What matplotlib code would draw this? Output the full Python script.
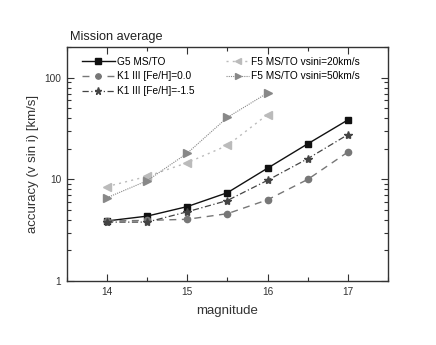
import matplotlib
matplotlib.use("Agg")
import matplotlib.pyplot as plt
from matplotlib import font_manager as fm
from matplotlib.ticker import LogLocator, NullFormatter, FixedLocator

path = None
for f in fm.findSystemFonts():
    base = f.replace('\\', '/').split('/')[-1]
    if base.lower() == 'liberationsans-regular.ttf':
        path = f
        break
if path is not None:
    fm.fontManager.addfont(path)
    fam = fm.FontProperties(fname=path).get_name()
    plt.rcParams['font.family'] = [fam, 'DejaVu Sans']
else:
    plt.rcParams['font.family'] = ['Liberation Sans', 'DejaVu Sans']

def fp(size):
    if path is not None:
        return fm.FontProperties(fname=path, size=size)
    return fm.FontProperties(family='Liberation Sans', size=size)

mag_full = [14, 14.5, 15, 15.5, 16, 16.5, 17]
mag_f5 = [14, 14.5, 15, 15.5, 16]
g5 = [3.9, 4.35, 5.4, 7.4, 12.9, 22.4, 38.5]
k1_00 = [3.9, 3.95, 4.05, 4.6, 6.3, 10.0, 18.6]
k1_15 = [3.8, 3.8, 4.8, 6.2, 9.8, 16.0, 27.6]
f5_20 = [8.5, 10.7, 14.6, 21.6, 43.5]
f5_50 = [6.6, 9.7, 18.1, 40.8, 71.0]

xticks = [14, 15, 16, 17]
yticks = [1, 10, 100]
yticklabels = ['1', '10', '100']

fig = plt.figure(figsize=(4.36, 3.45), dpi=100)
ax = fig.add_axes([0.153, 0.1855, 0.737, 0.6775])

h1, = ax.plot(mag_full, g5, color='#111111', ls='-', lw=1.0, marker='s', ms=4.5,
              label='G5 MS/TO')
h2, = ax.plot(mag_full, k1_00, color='#777777', ls=(0, (5, 4)), lw=1.0, marker='o', ms=4.5,
              label='K1 III [Fe/H]=0.0')
h3, = ax.plot(mag_full, k1_15, color='#444444', ls=(0, (5, 2, 1, 2)), lw=0.9, marker='*', ms=6,
              label='K1 III [Fe/H]=-1.5')
h4, = ax.plot(mag_f5, f5_20, color='#bbbbbb', ls=(0, (1.5, 3)), lw=1.0, marker='<', ms=5.5,
              label='F5 MS/TO vsini=20km/s')
h5, = ax.plot(mag_f5, f5_50, color='#888888', ls=(0, (1, 1)), lw=0.8, marker='>', ms=5.5,
              label='F5 MS/TO vsini=50km/s')

ax.set_yscale('log')
ax.set_xlim(13.5, 17.5)
ax.set_ylim(1, 200)
ax.xaxis.set_major_locator(FixedLocator(xticks))
ax.xaxis.set_minor_locator(FixedLocator([13.5 + 0.5 * i for i in range(9)]))
ax.yaxis.set_minor_locator(LogLocator(base=10, subs=range(2, 10), numticks=20))
ax.yaxis.set_minor_formatter(NullFormatter())
ax.set_yticks(yticks)
ax.set_yticklabels(yticklabels)

ax.tick_params(which='both', direction='in', top=True, right=True, colors='#333333')
ax.tick_params(which='major', length=5, width=0.8)
ax.tick_params(which='minor', length=3, width=0.8)
ax.tick_params(axis='x', pad=4)
ax.tick_params(axis='y', pad=4)
for lab in ax.get_xticklabels() + ax.get_yticklabels():
    lab.set_fontproperties(fp(7.3))
for s in ax.spines.values():
    s.set_linewidth(1.0)
    s.set_color('#333333')

ax.set_xlabel('magnitude', fontproperties=fp(9.5), color='#333333', labelpad=6)
ax.set_ylabel('accuracy (v sin i) [km/s]', fontproperties=fp(9.5), color='#333333', labelpad=4)
tt = ax.set_title('Mission average', fontproperties=fp(9.2), loc='left', color='#222222', pad=5.5)
tt.set_x(0.009)

leg1 = ax.legend(handles=[h1, h2, h3], loc='upper left', frameon=False, prop=fp(7.3),
                 handlelength=3.3, handletextpad=0.2, labelspacing=0.45, markerscale=0.85,
                 bbox_to_anchor=(0.034, 0.976), borderaxespad=0.0)
ax.add_artist(leg1)
ax.legend(handles=[h4, h5], loc='upper left', frameon=False, prop=fp(7.3),
          handlelength=2.3, handletextpad=0.2, labelspacing=0.45, markerscale=0.85,
          bbox_to_anchor=(0.483, 0.976), borderaxespad=0.0)

fig.savefig('out.png', dpi=100)
